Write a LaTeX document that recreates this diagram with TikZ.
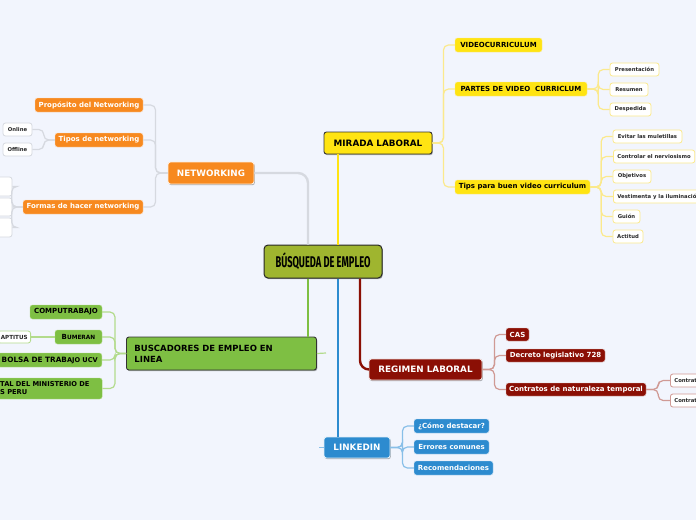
\documentclass[tikz,border=0pt]{standalone}
\usepackage{fontspec}
\setmainfont{DejaVu Sans}
\newfontfamily\ctrfont{Fira Sans}[FakeStretch=0.6]
\usetikzlibrary{shadows}
\definecolor{bg}{HTML}{F2F5FD}
\definecolor{ctrg}{HTML}{9FB52F}
\definecolor{yel}{HTML}{FFE412}
\definecolor{yell}{HTML}{FBE98C}
\definecolor{ora}{HTML}{F7891F}
\definecolor{grl}{HTML}{D6D9E0}
\definecolor{grn}{HTML}{7EBF43}
\definecolor{grnl}{HTML}{B3DB8C}
\definecolor{red}{HTML}{8B0F05}
\definecolor{redl}{HTML}{D09A95}
\definecolor{blu}{HTML}{2D8BCF}
\definecolor{blul}{HTML}{88BFE8}
\newcommand\bx[7]{%
 \pgfmathsetmacro\bxw{#4-#2}\pgfmathsetmacro\bxh{#5-#3}%
 \pgfmathsetmacro\bxx{(#2+#4)/2}\pgfmathsetmacro\bxy{(#3+#5)/2}%
 \node[#6,minimum width=\bxw pt,minimum height=\bxh pt] (#1) at (\bxx,\bxy) {#7};}
\tikzset{
 base/.style={inner sep=0pt, rounded corners=2.5pt, font=\bfseries},
 shad/.style={drop shadow={shadow xshift=0.8pt,shadow yshift=-1.2pt,opacity=0.3,fill=black}},
 mainbox/.style={base, shad, line width=0.9pt, font=\bfseries\fontsize{8.8}{10.5}\selectfont},
 kid/.style={base, font=\bfseries\fontsize{7}{8.4}\selectfont},
 leaf/.style={base, fill=white, line width=0.8pt, font=\bfseries\fontsize{5.3}{6.4}\selectfont, text=black!85},
 mainln/.style={line width=2.4pt},
 brk/.style={line width=1.2pt, rounded corners=5pt},
}
\begin{document}
\begin{tikzpicture}[x=1pt,y=-1pt]
\fill[bg] (0,0) rectangle (696,520);
\useasboundingbox (0,0) rectangle (696,520);
\path (308,0) coordinate (xg) (338,0) coordinate (xa) (360,0) coordinate (xr);

% centre
\bx{ctr}{264}{245}{382}{278}{base, shad, fill=ctrg, draw=black!85, line width=1pt, rounded corners=4pt, font=\ctrfont\bfseries\fontsize{15.5}{16}\selectfont}{BÚSQUEDA DE EMPLEO}

% main branches
\bx{mir}{324}{132}{432}{154}{mainbox, fill=yel, draw=black!80}{MIRADA LABORAL}
\bx{net}{168}{162}{254}{184}{mainbox, fill=ora, draw=white!85!ora, text=white}{NETWORKING}
\node[mainbox, fill=grn, draw=black!80, anchor=west, inner xsep=8pt, text width=174pt, align=left, minimum height=33pt, font=\bfseries\fontsize{8.5}{11}\selectfont] (bus) at (126,353.5) {BUSCADORES DE EMPLEO EN\\LINEA};
\bx{reg}{369}{359}{482}{380}{mainbox, fill=red, draw=white!85!red, text=white}{REGIMEN LABORAL}
\bx{lin}{324}{437}{390}{458}{mainbox, fill=blu, draw=white!85!blu, text=white}{LINKEDIN}

% main connectors
\draw[mainln, yel] (ctr.north -| xa) -- (mir.south -| xa);
\draw[mainln, grl, rounded corners=10pt] (net.east) -| (ctr.north -| xg);
\draw[mainln, grn] (ctr.south -| xg) -- (bus.north -| xg);
\draw[mainln, blu] (ctr.south -| xa) -- (lin.north -| xa);
\draw[mainln, red, rounded corners=9pt] (ctr.south -| xr) |- (reg.west);
\coordinate (bst) at (326,353);
\draw[line width=1.2pt, grnl] (bus.east) -- (bst);
\coordinate (lst) at (319,447.5);
\draw[line width=1.2pt, blul] (lin.west) -- (lst);

% MIRADA LABORAL
\bx{vid}{455}{38}{542}{52}{kid, fill=yel, draw=yell}{VIDEOCURRICULUM}
\bx{par}{455}{82}{587}{96}{kid, fill=yel, draw=yell}{PARTES DE VIDEO \ CURRICLUM}
\bx{tip}{455}{180}{590}{194}{kid, fill=yel, draw=yell}{Tips para buen video curriculum}
\foreach \c in {vid,par,tip} \draw[brk, yell] (mir.east) -- ++(11,0) |- (\c.west);

\bx{pre}{610}{63}{659}{76}{leaf, draw=yell}{Presentación}
\bx{res}{610}{83}{648}{96}{leaf, draw=yell}{Resumen}
\bx{des}{610}{103}{651}{116}{leaf, draw=yell}{Despedida}
\foreach \c in {pre,res,des} \draw[brk, yell] (par.east) -- ++(11,0) |- (\c.west);

\bx{ev}{613}{130}{682}{143}{leaf, draw=yell}{Evitar las muletillas}
\node[leaf, draw=yell, anchor=west, inner xsep=4pt, minimum height=13pt] (con) at (613,156.5) {Controlar el nerviosismo};
\bx{obj}{613}{170}{651}{183}{leaf, draw=yell}{Objetivos}
\node[leaf, draw=yell, anchor=west, inner xsep=4pt, minimum height=13pt] (ves) at (613,196.5) {Vestimenta y la iluminación};
\bx{gui}{613}{210}{640}{223}{leaf, draw=yell}{Guión}
\bx{act}{613}{230}{643}{243}{leaf, draw=yell}{Actitud}
\foreach \c in {ev,con,obj,ves,gui,act} \draw[brk, yell] (tip.east) -- ++(11,0) |- (\c.west);

% NETWORKING
\bx{pro}{35}{98}{143}{112}{kid, fill=ora, draw=white!70!ora, text=white}{Propósito del Networking}
\bx{tipn}{55}{133}{143}{147}{kid, fill=ora, draw=white!70!ora, text=white}{Tipos de networking}
\bx{for}{23}{200}{143}{214}{kid, fill=ora, draw=white!70!ora, text=white}{Formas de hacer networking}
\foreach \c in {pro,tipn,for} \draw[brk, grl] (net.west) -- ++(-12,0) |- (\c.east);
\bx{onl}{3}{123}{32}{136}{leaf, draw=grl}{Online}
\bx{off}{3}{143}{32}{156}{leaf, draw=grl}{Offline}
\foreach \c in {onl,off} \draw[brk, grl] (tipn.west) -- ++(-11,0) |- (\c.east);
\bx{e1}{-12}{177}{12}{196}{leaf, draw=grl}{}
\bx{e2}{-12}{198}{12}{216}{leaf, draw=grl}{}
\bx{e3}{-12}{218}{12}{237}{leaf, draw=grl}{}
\foreach \c in {e1,e2,e3} \draw[brk, grl] (for.west) -- ++(-11,0) |- (\c.east);

% BUSCADORES
\bx{comp}{30}{305}{102}{319}{kid, fill=grn, draw=grnl}{COMPUTRABAJO}
\bx{bum}{55}{330}{102}{344}{kid, fill=grn, draw=grnl}{B{\fontsize{5.8}{7}\selectfont UMERAN}}
\node[kid, fill=grn, draw=grnl, anchor=east, inner xsep=4pt, minimum height=14pt, font=\bfseries\fontsize{7.3}{8.4}\selectfont] (bol) at (102,360) {BOLSA DE TRAB{\fontsize{6.6}{7}\selectfont AJO UCV}};
\node[kid, fill=grn, draw=grnl, anchor=west, inner xsep=4pt, text width=98pt, align=left, minimum height=21pt, font=\bfseries\fontsize{6.7}{8}\selectfont] (tal) at (-4,388.5) {TAL DEL MINISTERIO DE\\S PERU};
\foreach \c in {comp,bum,bol,tal} \draw[brk, grnl] (bus.west) -- ++(-11,0) |- (\c.east);
\node[leaf, draw=grnl, anchor=east, inner xsep=3pt, minimum height=12pt, font=\bfseries\fontsize{5.6}{6.5}\selectfont] (apt) at (31,337) {APTITUS};
\draw[brk, grnl] (bum.west) -- (apt.east);

% REGIMEN LABORAL
\bx{cas}{506}{328}{529}{341}{kid, fill=red, draw=white!70!red, text=white}{CAS}
\bx{dec}{506}{349}{605}{362}{kid, fill=red, draw=white!70!red, text=white}{Decreto legislativo 728}
\bx{ctt}{506}{383}{646}{396}{kid, fill=red, draw=white!70!red, text=white}{Contratos de naturaleza temporal}
\foreach \c in {cas,dec,ctt} \draw[brk, redl] (reg.east) -- ++(12,0) |- (\c.west);
\node[leaf, draw=redl, anchor=west, inner xsep=4pt, minimum height=13pt] (c1) at (670,380.5) {Contrat\hspace{8pt}};
\node[leaf, draw=redl, anchor=west, inner xsep=4pt, minimum height=13pt] (c2) at (670,400.5) {Contrat\hspace{8pt}};
\foreach \c in {c1,c2} \draw[brk, redl] (ctt.east) -- ++(12,0) |- (\c.west);

% LINKEDIN
\bx{como}{414}{419}{489}{433}{kid, fill=blu, draw=white!70!blu, text=white}{¿Cómo destacar?}
\bx{err}{414}{440}{489}{454}{kid, fill=blu, draw=white!70!blu, text=white}{Errores comunes}
\bx{rec}{414}{461}{493}{475}{kid, fill=blu, draw=white!70!blu, text=white}{Recomendaciones}
\foreach \c in {como,err,rec} \draw[brk, blul] (lin.east) -- ++(12,0) |- (\c.west);
\end{tikzpicture}
\end{document}
